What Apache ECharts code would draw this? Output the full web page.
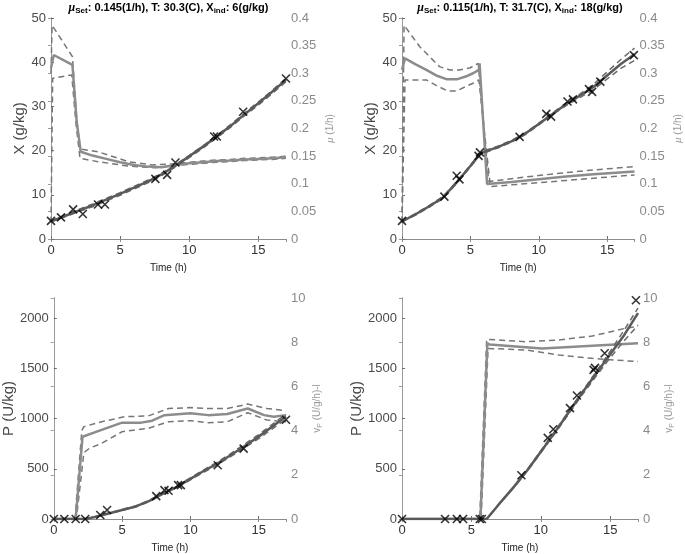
<!DOCTYPE html>
<html><head><meta charset="utf-8">
<script src="https://cdn.jsdelivr.net/npm/echarts@6/dist/echarts.min.js"></script>
<style>html,body{margin:0;padding:0;background:#fff}#c{width:685px;height:554px}</style>
</head><body><div id="c"></div>
<script>
// ---------- Panel A (top-left): X and mu ----------
const tA_X   = [0,1,2,3,4,5,6,7,8,9,10,11,12,13,14,15,16,17];
const A_X    = [4.0,5.2,6.4,7.6,8.9,10.2,11.6,13.0,14.6,16.6,18.7,20.9,23.2,25.6,28.2,30.7,33.3,36.0];
const A_Xhi  = [4.1,5.4,6.7,7.9,9.2,10.5,11.9,13.3,14.9,16.8,18.9,21.1,23.4,25.9,28.5,31.0,33.6,36.4];
const A_Xlo  = [3.9,5.0,6.2,7.3,8.6,9.9,11.3,12.7,14.3,16.3,18.4,20.6,22.9,25.3,27.9,30.3,32.9,35.6];
const tA_mu  = [0,0.2,1.55,1.86,2.15,3,4,5,6,7,8,9,10,11,12,13,14,15,16,17];
const A_mu   = [0.31,0.333,0.315,0.212,0.158,0.151,0.145,0.139,0.134,0.131,0.130,0.134,0.137,0.139,0.141,0.142,0.144,0.145,0.146,0.148];
const tA_muHi = [0,0.08,1.55,1.85,2.1,3.4,5.6,7.3,9,10,11,12,13,14,15,16,17];
const A_muHi  = [0.30,0.387,0.33,0.22,0.163,0.158,0.14,0.134,0.136,0.139,0.141,0.143,0.144,0.146,0.147,0.148,0.150];
const tA_muLo = [0,0.12,1.5,1.8,2.1,3.4,5.6,7.5,9,10,11,12,13,14,15,16,17];
const A_muLo  = [0.03,0.291,0.297,0.21,0.146,0.14,0.132,0.129,0.133,0.135,0.137,0.139,0.140,0.142,0.143,0.144,0.146];
const tA_obs = [0,0.72,1.6,2.3,3.4,3.9,7.55,8.4,9.0,11.8,12.0,13.9,17];
const A_obs  = [4.1,4.9,6.7,5.65,7.8,7.8,13.6,14.5,17.3,23.2,23.2,28.8,36.3];

// ---------- Panel B (top-right): X and mu ----------
const tB_X   = [0,1,2,3,4,5,5.7,6,7,8,9,10,11,12,13,14,15,16,17];
const B_X    = [4.0,5.6,7.4,9.4,12.8,16.5,19.2,19.7,20.8,22.1,23.8,26.0,28.3,30.5,32.4,34.4,37.0,39.6,41.8];
const B_Xhi  = [4.1,5.8,7.6,9.6,13.0,16.7,19.4,19.9,21.0,22.3,24.0,26.2,28.5,30.8,32.8,35.0,37.8,40.6,43.2];
const B_Xlo  = [3.9,5.4,7.2,9.2,12.6,16.3,19.0,19.5,20.6,21.9,23.6,25.8,28.1,30.2,32.0,33.8,36.2,38.6,40.4];
const tB_mu  = [0,0.22,1,1.78,2.5,3.3,4,4.66,5.2,5.62,5.67,6.22,8,10,12,14,17];
const B_mu   = [0.306,0.327,0.316,0.306,0.296,0.289,0.289,0.294,0.300,0.306,0.318,0.0995,0.103,0.108,0.113,0.117,0.122];
const tB_muHi = [0,0.15,1.3,2.74,3.5,4.18,5,5.57,6.34,8,10,12,14,17];
const B_muHi  = [0.03,0.387,0.348,0.312,0.306,0.306,0.310,0.318,0.104,0.109,0.115,0.120,0.125,0.131];
const tB_muLo = [0,0.22,1.78,2.5,3.34,4,4.66,5.2,5.62,6.46,8,10,12,14,17];
const B_muLo  = [0.03,0.288,0.288,0.278,0.268,0.268,0.276,0.282,0.288,0.095,0.098,0.102,0.106,0.110,0.116];
const tB_obs = [0,3.1,4.0,4.2,5.6,5.7,8.6,10.55,10.9,12.1,12.5,13.67,13.9,14.5,16.95];
const B_obs  = [4.1,9.6,14.3,13.5,18.8,19.6,23.1,28.3,27.7,31.1,31.6,33.9,33.3,35.6,41.6];

// ---------- Panel C (bottom-left): P and vP ----------
const tC_P   = [0,2.3,3,4,5,6,7,8,9,10,11,12,13,14,15,16,17];
const C_P    = [0,0,20,55,90,125,180,255,320,400,480,555,640,730,820,920,1020];
const C_Phi  = [0,0,22,58,95,130,186,262,328,410,492,568,655,748,840,942,1045];
const C_Plo  = [0,0,18,52,86,120,174,248,312,390,468,542,625,712,800,898,995];
const tC_v   = [0,1.6,2.1,2.2,3.5,5,6.4,7.2,8.1,10,11.3,12.7,14.2,15.4,16.1,17];
const C_v    = [0,0,3.72,3.75,4.03,4.36,4.36,4.45,4.7,4.78,4.7,4.75,5.0,4.7,4.63,4.7];
const tC_vHi = [0,1.55,2.05,2.2,3.5,5.2,6.9,8.4,10,11.3,12.7,14.2,15.6,17];
const C_vHi  = [0,0,4.0,4.18,4.4,4.63,4.66,5.0,5.04,5.0,5.0,5.2,5.0,4.9];
const tC_vLo = [0,1.65,2.2,2.6,3.5,5,6.9,8.4,10,11.3,12.7,14.2,15.6,17];
const C_vLo  = [0,0,3.0,3.2,3.42,3.95,4.1,4.4,4.45,4.36,4.4,4.81,4.48,4.4];
const tC_obs = [0,0.77,1.6,2.3,3.4,3.9,7.5,8.1,8.4,9.1,9.3,12,13.9,17];
const C_obs  = [0,0,0,0,40,90,228,288,281,337,337,535,700,988];

// ---------- Panel D (bottom-right): P and vP ----------
const tD_P   = [0,6.1,7,8,9,10,11,12,13,14,15,16,17];
const D_P    = [0,0,150,310,480,670,860,1060,1260,1450,1640,1830,2050];
const D_Phi  = [0,0,152,315,488,680,872,1072,1272,1470,1670,1880,2100];
const D_Plo  = [0,0,148,305,472,660,848,1045,1240,1425,1605,1775,1930];
const tD_v   = [0,5.65,6.15,6.3,10.1,17];
const D_v    = [0,0,7.95,7.9,7.72,7.95];
const tD_vHi = [0,5.6,6.1,8.9,11.3,13.7,16.1,17];
const D_vHi  = [0,0,8.13,8.02,8.1,8.28,8.63,8.72];
const tD_vLo = [0,5.7,6.2,8.9,11.3,13.7,17];
const D_vLo  = [0,0,7.72,7.65,7.42,7.27,7.12];
const tD_obs = [0,3.1,3.95,4.4,5.6,5.75,8.6,10.5,10.9,12.1,12.6,13.8,13.9,14.6,16.85];
const D_obs  = [0,0,0,0,0,0,436,807,893,1104,1230,1484,1504,1650,2178];

// ---------- Text ----------
const titles = [
  '{m|μ}{s|Set}{b|: 0.145(1/h), T: 30.3(C), X}{s|ind}{b|: 6(g/kg)}',
  '{m|μ}{s|Set}{b|: 0.115(1/h), T: 31.7(C), X}{s|ind}{b|: 18(g/kg)}'
];
const xName = 'Time (h)';
const leftNames = ['X (g/kg)', 'X (g/kg)', 'P (U/kg)', 'P (U/kg)'];
const rightNames = ['{i|μ}{t| (1/h)}', '{i|μ}{t| (1/h)}', '{t|v}{s|P}{t| (U/g/h)-l}', '{t|v}{s|P}{t| (U/g/h)-l}'];

const FONT = 'Liberation Sans';
const pairs = (ts, vs) => ts.map((t, i) => [t, vs[i]]);
const plain = v => String(Math.round(v * 1000) / 1000);

const grids = [
  {left: 51, top: 18, width: 235, height: 221},
  {left: 402, top: 18, width: 236, height: 221},
  {left: 51, top: 298, width: 235, height: 221},
  {left: 402, top: 298, width: 236, height: 221}
];
const yRanges = [
  {lmax: 50, lint: 10, rmax: 0.4, rint: 0.05},
  {lmax: 50, lint: 10, rmax: 0.4, rint: 0.05},
  {lmax: 2200, lint: 500, rmax: 10, rint: 2},
  {lmax: 2200, lint: 500, rmax: 10, rint: 2}
];
const leftGap = [23, 23, 28, 28];
const rightGap = [37, 37, 24, 24];

const panels = [
  {L: [tA_X, A_X, A_Xhi, A_Xlo], R: [[tA_mu, A_mu], [tA_muHi, A_muHi], [tA_muLo, A_muLo]], O: [tA_obs, A_obs]},
  {L: [tB_X, B_X, B_Xhi, B_Xlo], R: [[tB_mu, B_mu], [tB_muHi, B_muHi], [tB_muLo, B_muLo]], O: [tB_obs, B_obs]},
  {L: [tC_P, C_P, C_Phi, C_Plo], R: [[tC_v, C_v], [tC_vHi, C_vHi], [tC_vLo, C_vLo]], O: [tC_obs, C_obs]},
  {L: [tD_P, D_P, D_Phi, D_Plo], R: [[tD_v, D_v], [tD_vHi, D_vHi], [tD_vLo, D_vLo]], O: [tD_obs, D_obs]}
];

const xAxes = [], yAxes = [], series = [];
grids.forEach((g, i) => {
  xAxes.push({
    type: 'value', gridIndex: i, position: 'bottom', min: 0, max: 17, interval: 5,
    axisLine: {show: true, lineStyle: {color: '#6e6e6e', width: 1}},
    axisTick: {show: true, inside: true, length: 3, lineStyle: {color: '#6e6e6e'}},
    axisLabel: {color: '#333', fontSize: 13, fontFamily: FONT, margin: 5, showMaxLabel: false, formatter: plain},
    splitLine: {show: false},
    name: xName, nameLocation: 'middle', nameGap: 24,
    nameTextStyle: {color: '#222', fontSize: 10, fontFamily: FONT}
  });
  xAxes.push({
    type: 'value', gridIndex: i, position: 'top', min: 0, max: 17, interval: 5,
    axisLine: {show: true, lineStyle: {color: '#8c8c8c', width: 1}},
    axisTick: {show: true, inside: true, length: 3, lineStyle: {color: '#8c8c8c'}},
    axisLabel: {show: false}, splitLine: {show: false}
  });
  const r = yRanges[i];
  yAxes.push({
    type: 'value', gridIndex: i, position: 'left', min: 0, max: r.lmax, interval: r.lint,
    axisLine: {show: true, lineStyle: {color: '#6e6e6e', width: 1}},
    axisTick: {show: true, inside: true, length: 3, lineStyle: {color: '#6e6e6e'}},
    axisLabel: {color: '#4a4a4a', fontSize: 13, fontFamily: FONT, margin: 5, showMaxLabel: r.lmax === 50, formatter: plain},
    splitLine: {show: false},
    name: leftNames[i], nameLocation: 'middle', nameGap: leftGap[i],
    nameTextStyle: {color: '#4a4a4a', fontSize: 15, fontFamily: FONT}
  });
  yAxes.push({
    type: 'value', gridIndex: i, position: 'right', min: 0, max: r.rmax, interval: r.rint,
    axisLine: {show: true, lineStyle: {color: '#9a9a9a', width: 1}},
    axisTick: {show: true, inside: true, length: 3, lineStyle: {color: '#9a9a9a'}},
    axisLabel: {color: '#8a8a8a', fontSize: 13, fontFamily: FONT, margin: 5, formatter: plain},
    splitLine: {show: false},
    name: rightNames[i], nameLocation: 'middle', nameGap: rightGap[i],
    nameTextStyle: {
      color: '#9a9a9a', fontSize: 10, fontFamily: FONT,
      rich: {
        t: {color: '#9a9a9a', fontSize: 10, fontFamily: FONT, lineHeight: 14},
        i: {color: '#9a9a9a', fontSize: 11, fontStyle: 'italic', fontFamily: 'Liberation Serif', lineHeight: 14},
        s: {color: '#9a9a9a', fontSize: 7, fontFamily: FONT, lineHeight: 7, verticalAlign: 'bottom'}
      }
    }
  });

  const p = panels[i];
  const xi = 2 * i, yl = 2 * i, yr = 2 * i + 1;
  const base = {type: 'line', xAxisIndex: xi, showSymbol: false, symbol: 'none', animation: false, silent: true};
  // right-axis (rate) lines
  series.push(Object.assign({}, base, {yAxisIndex: yr, data: pairs(p.R[1][0], p.R[1][1]), z: 2,
    lineStyle: {color: '#767676', width: 1.5, type: [6, 4]}}));
  series.push(Object.assign({}, base, {yAxisIndex: yr, data: pairs(p.R[2][0], p.R[2][1]), z: 2,
    lineStyle: {color: '#767676', width: 1.5, type: [6, 4]}}));
  series.push(Object.assign({}, base, {yAxisIndex: yr, data: pairs(p.R[0][0], p.R[0][1]), z: 3,
    lineStyle: {color: '#8c8c8c', width: 2.5}}));
  // left-axis (state) lines
  series.push(Object.assign({}, base, {yAxisIndex: yl, data: pairs(p.L[0], p.L[2]), z: 4,
    lineStyle: {color: '#6a6a6a', width: 1.5, type: [6, 4]}}));
  series.push(Object.assign({}, base, {yAxisIndex: yl, data: pairs(p.L[0], p.L[3]), z: 4,
    lineStyle: {color: '#6a6a6a', width: 1.5, type: [6, 4]}}));
  series.push(Object.assign({}, base, {yAxisIndex: yl, data: pairs(p.L[0], p.L[1]), z: 5,
    lineStyle: {color: '#5a5a5a', width: 2.5}}));
  // observations
  series.push({type: 'scatter', xAxisIndex: xi, yAxisIndex: yl, data: pairs(p.O[0], p.O[1]),
    symbol: 'path://M0 0L10 10M10 0L0 10', symbolSize: 8, animation: false, silent: true, z: 6,
    itemStyle: {color: 'rgba(0,0,0,0)', borderColor: '#000', borderWidth: 1.6}});
});

const titleRich = {
  b: {fontSize: 11, fontWeight: 'bold', fontFamily: FONT, color: '#000', lineHeight: 15},
  s: {fontSize: 8, fontWeight: 'bold', fontFamily: FONT, color: '#000', lineHeight: 8, verticalAlign: 'bottom'},
  m: {fontSize: 12, fontStyle: 'italic', fontFamily: 'Liberation Serif', color: '#000', lineHeight: 15}
};

const chart = echarts.init(document.getElementById('c'), null, {renderer: 'canvas'});
chart.setOption({
  backgroundColor: '#fff',
  animation: false,
  title: [
    {text: titles[0], left: 168.5, top: 0, textAlign: 'center', padding: 0, textStyle: {rich: titleRich, fontSize: 11}},
    {text: titles[1], left: 520, top: 0, textAlign: 'center', padding: 0, textStyle: {rich: titleRich, fontSize: 11}}
  ],
  grid: grids.map(g => Object.assign({show: false, containLabel: false}, g)),
  xAxis: xAxes,
  yAxis: yAxes,
  series: series
});
</script>
</body></html>
